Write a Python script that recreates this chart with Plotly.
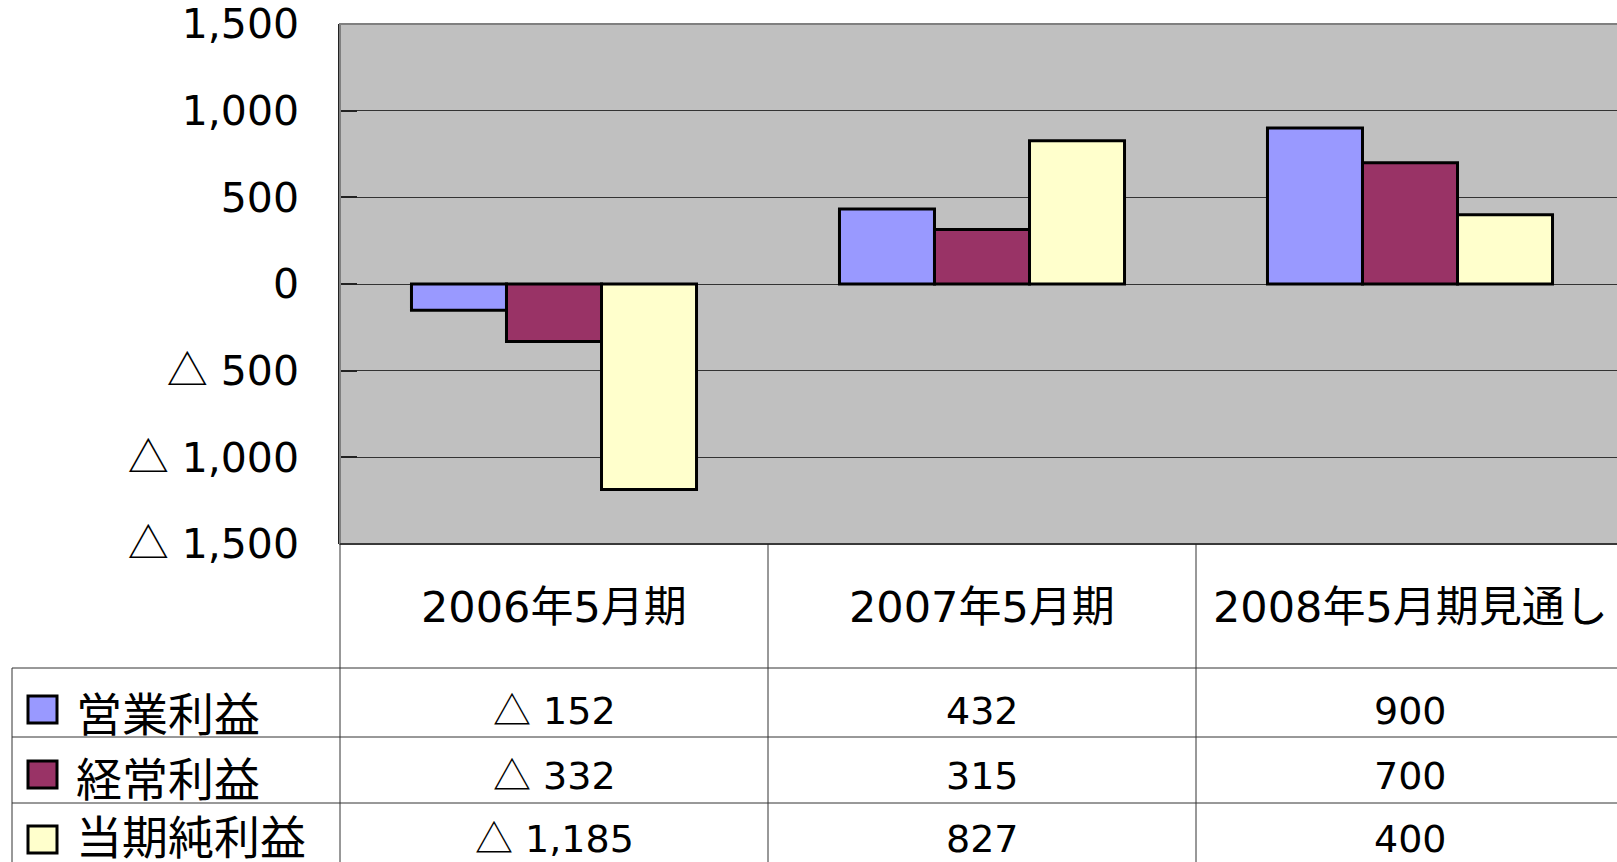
import plotly.graph_objects as go

W, H = 1617, 862

categories = ["2006年5月期", "2007年5月期", "2008年5月期見通し"]
series_names = ["営業利益", "経常利益", "当期純利益"]
operating = [-152, 432, 900]
ordinary = [-332, 315, 700]
net = [-1185, 827, 400]
series_values = [operating, ordinary, net]
colors = ["#9999FF", "#993366", "#FFFFCC"]
tick_vals = [1500, 1000, 500, 0, -500, -1000, -1500]
tick_text = ["1,500", "1,000", "500", "0", "△ 500", "△ 1,000", "△ 1,500"]

FONT = "DejaVu Sans, Noto Sans CJK JP"
CJK = "Noto Sans CJK JP"

def tri(s):
    return s.replace("△", f"<span style=\"font-family:'{CJK}'\">△</span>")

def fmt(v):
    s = f"{abs(v):,}"
    return ("△ " + s) if v < 0 else s

def px(x):
    return x / W

def py(y):
    return 1 - y / H

plot_left, plot_top, plot_bottom = 340, 24, 544
col_w = 428
x_range = [-0.5, -0.5 + (W - plot_left) / col_w]

fig = go.Figure()
for name, vals, c in zip(series_names, series_values, colors):
    fig.add_trace(go.Bar(
        x=list(range(len(categories))), y=vals, name=name,
        marker=dict(color=c, line=dict(color="black", width=3)),
        showlegend=False,
    ))

shapes = []
shapes.append(dict(type="rect", xref="paper", yref="paper",
                   x0=px(plot_left), x1=px(W + 5), y0=py(plot_bottom), y1=py(plot_top),
                   line=dict(color="#808080", width=2), layer="above"))
line_col = "#333333"
for i in range(len(categories) + 1):
    xx = plot_left + i * col_w
    if xx <= W:
        shapes.append(dict(type="line", xref="paper", yref="paper",
                           x0=px(xx), x1=px(xx), y0=py(plot_bottom), y1=0,
                           line=dict(color=line_col, width=1)))
shapes.append(dict(type="line", xref="paper", yref="paper",
                   x0=px(12), x1=px(12), y0=py(668), y1=0,
                   line=dict(color=line_col, width=1)))
row_lines = [668, 737, 803]
for yy in row_lines:
    shapes.append(dict(type="line", xref="paper", yref="paper",
                       x0=px(12), x1=1, y0=py(yy), y1=py(yy),
                       line=dict(color=line_col, width=1)))
shapes.append(dict(type="line", xref="paper", yref="paper",
                   x0=px(plot_left), x1=1, y0=py(plot_bottom), y1=py(plot_bottom),
                   line=dict(color="#222222", width=1.5)))

annotations = []
header_y = 607
for i, cat in enumerate(categories):
    annotations.append(dict(x=i, xref="x", y=py(header_y), yref="paper",
                            text=cat, showarrow=False, xanchor="center", yanchor="middle",
                            font=dict(family=FONT, size=43, color="black")))
row_centers = [711, 776, 839]
label_centers = [711, 776, 834]
key_boxes = [(696, 723), (761, 788), (826, 853)]
for r, (name, vals, c) in enumerate(zip(series_names, series_values, colors)):
    yc = row_centers[r]
    annotations.append(dict(x=px(74), xref="paper", y=py(label_centers[r]), yref="paper",
                            text=name, showarrow=False, xanchor="left", yanchor="middle",
                            font=dict(family=CJK, size=46, color="black")))
    for i, v in enumerate(vals):
        annotations.append(dict(x=i, xref="x", y=py(yc), yref="paper",
                                text=tri(fmt(v)), showarrow=False, xanchor="center", yanchor="middle",
                                yshift=4 if v < 0 else 0,
                                font=dict(family=FONT, size=38, color="black")))
    k0, k1 = key_boxes[r]
    shapes.append(dict(type="rect", xref="paper", yref="paper",
                       x0=px(28), x1=px(57), y0=py(k1), y1=py(k0),
                       fillcolor=c, line=dict(color="black", width=3)))

fig.update_layout(
    width=W, height=H,
    margin=dict(l=0, r=0, t=0, b=0, autoexpand=False),
    paper_bgcolor="white",
    plot_bgcolor="#C0C0C0",
    barmode="group",
    bargap=0.334,
    bargroupgap=0,
    xaxis=dict(domain=[px(plot_left), 1], range=x_range, showticklabels=False,
               showgrid=False, zeroline=False, ticks="", showline=False, fixedrange=True,
               automargin=False),
    yaxis=dict(domain=[py(plot_bottom), py(plot_top)], range=[-1500, 1500],
               tickvals=tick_vals, ticktext=[tri(t) for t in tick_text],
               tickfont=dict(family=FONT, size=41, color="black"),
               ticklabeloverflow="allow", automargin=False,
               showgrid=True, gridcolor="#333333", gridwidth=1,
               zeroline=False, showline=True, linecolor="#222222", linewidth=1.5,
               ticks="inside", ticklen=17, tickcolor="#222222", tickwidth=1.5,
               ticklabelstandoff=31, fixedrange=True),
    shapes=shapes,
    annotations=annotations,
)

fig.write_html("out.html", config={"displayModeBar": False},
               post_script="document.body.style.margin='0';document.body.style.overflow='hidden';")
